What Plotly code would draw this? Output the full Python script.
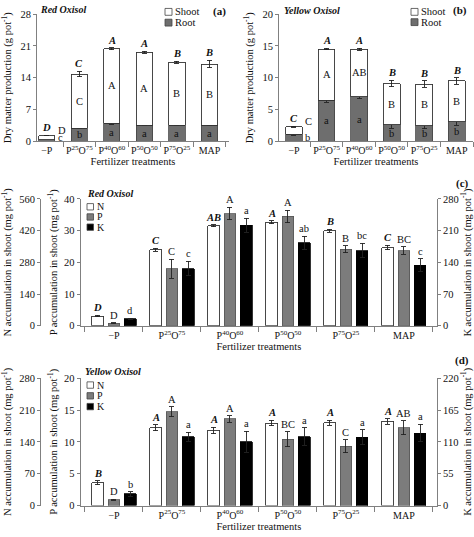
import plotly.graph_objects as go

W, H = 474, 537
FONT = "Liberation Serif, Times New Roman, DejaVu Serif, serif"
AX = "#808080"

# ---------------- data ----------------
treatments = ["−P", "P<sup>25</sup>O<sup>75</sup>", "P<sup>40</sup>O<sup>60</sup>",
              "P<sup>50</sup>O<sup>50</sup>", "P<sup>75</sup>O<sup>25</sup>", "MAP"]

# (a) Red Oxisol – dry matter (g pot-1)
red_root = [0.4, 2.9, 4.0, 3.6, 3.6, 3.6]
red_root_err = [0.05, 0.15, 0.2, 0.15, 0.15, 0.15]
red_shoot = [0.9, 11.9, 16.4, 16.0, 13.8, 13.4]
red_total_err = [0.1, 0.6, 0.25, 0.2, 0.2, 0.8]
red_total_letters = ["D", "C", "A", "A", "B", "B"]
red_shoot_letters = ["D", "C", "A", "A", "B", "B"]
red_root_letters = ["c", "b", "a", "a", "a", "a"]

# (b) Yellow Oxisol – dry matter (g pot-1)
yel_root = [1.1, 6.5, 7.0, 2.6, 2.5, 3.1]
yel_root_err = [0.1, 0.35, 0.3, 0.5, 0.5, 0.55]
yel_shoot = [1.2, 8.0, 7.5, 6.5, 6.5, 6.4]
yel_total_err = [0.1, 0.1, 0.15, 0.5, 0.5, 0.5]
yel_total_letters = ["C", "A", "A", "B", "B", "B"]
yel_shoot_letters = ["C", "A", "AB", "B", "B", "B"]
yel_root_letters = ["b", "a", "a", "b", "b", "b"]

# (c) Red Oxisol – accumulation in shoot (mg pot-1)
red_N = [43, 335, 442, 457, 419, 345]
red_N_err = [4, 7, 5, 6, 7, 10]
red_P = [0.8, 18.0, 35.4, 34.5, 24.2, 23.7]
red_P_err = [0.1, 3.0, 2.0, 2.0, 1.1, 1.2]
red_K = [15, 126, 222, 183, 166, 134]
red_K_err = [1.5, 16, 15, 15, 16, 14]
red_N_letters = ["D", "C", "AB", "A", "B", "C"]
red_P_letters = ["D", "C", "A", "A", "B", "BC"]
red_K_letters = ["d", "c", "a", "ab", "bc", "c"]

# (d) Yellow Oxisol – accumulation in shoot (mg pot-1)
yel_N = [50, 171, 165, 181, 182, 185]
yel_N_err = [4, 7, 7, 6, 5, 6]
yel_P = [0.9, 14.75, 13.6, 10.4, 9.3, 12.2]
yel_P_err = [0.05, 0.8, 0.5, 1.2, 1.0, 1.1]
yel_K = [20, 119, 110, 119, 118, 125]
yel_K_err = [4, 8, 18, 15, 13, 15]
yel_N_letters = ["B", "A", "A", "A", "A", "A"]
yel_P_letters = ["D", "A", "A", "BC", "C", "AB"]
yel_K_letters = ["b", "a", "a", "a", "a", "a"]

dm_legend = ["Shoot", "Root"]
nut_legend = ["N", "P", "K"]


def P(x):
    return x / W


def Q(y):
    return 1 - y / H


fig = go.Figure()
annos = []
shapes = []

ROOT_C = "#6e6e6e"
P_C = "#7c7c7c"
LF = 10.5  # letter font size


def err(arr):
    return dict(type="data", array=arr, color="#222", thickness=0.9, width=2.5)


def stacked(xa, ya, width, root, root_err, shoot, total_err, tl, sl, rl):
    fig.add_bar(x=treatments, y=root, xaxis=xa, yaxis=ya, width=width, showlegend=False,
                marker=dict(color=ROOT_C, line=dict(color="#444", width=0.8)), error_y=err(root_err))
    fig.add_bar(x=treatments, y=shoot, xaxis=xa, yaxis=ya, width=width, showlegend=False,
                marker=dict(color="white", line=dict(color="#333", width=0.9)), error_y=err(total_err))
    for i in range(len(treatments)):
        tot = root[i] + shoot[i]
        annos.append(dict(x=i, y=tot + total_err[i], xref=xa, yref=ya, text=f"<b><i>{tl[i]}</i></b>",
                          showarrow=False, yanchor="bottom", yshift=0, font=dict(size=LF)))
        if i == 0:
            annos.append(dict(x=width / 2, y=tot, xref=xa, yref=ya, text=sl[i], showarrow=False,
                              xanchor="left", xshift=1, yanchor="middle", yshift=5, font=dict(size=LF)))
            annos.append(dict(x=width / 2, y=0, xref=xa, yref=ya, text=rl[i], showarrow=False,
                              xanchor="left", xshift=1, yanchor="bottom", yshift=-4, font=dict(size=LF)))
        else:
            annos.append(dict(x=i, y=root[i] + shoot[i] / 2, xref=xa, yref=ya, text=sl[i], showarrow=False,
                              yanchor="middle", font=dict(size=LF)))
            annos.append(dict(x=i, y=root[i] / 2, xref=xa, yref=ya, text=rl[i], showarrow=False,
                              yanchor="middle", font=dict(size=LF, color="#111")))


stacked("x", "y", 0.5, red_root, red_root_err, red_shoot, red_total_err,
        red_total_letters, red_shoot_letters, red_root_letters)
stacked("x2", "y2", 0.52, yel_root, yel_root_err, yel_shoot, yel_total_err,
        yel_total_letters, yel_shoot_letters, yel_root_letters)

BW = 0.2
OFFS = [-0.28, 0.0, 0.28]


def grouped(xa, yN, yP, yK, N, Ne, Pv, Pe, K, Ke, Nl, Pl, Kl):
    series = [
        (N, Ne, Nl, yN, dict(color="white", line=dict(color="#333", width=0.9)), True),
        (Pv, Pe, Pl, yP, dict(color=P_C, line=dict(color="#555", width=0.8)), False),
        (K, Ke, Kl, yK, dict(color="black", line=dict(color="black", width=0.8)), False),
    ]
    for (vals, es, letters, ya, mk, ital), off in zip(series, OFFS):
        fig.add_bar(x=treatments, y=vals, xaxis=xa, yaxis=ya, width=BW, offset=off - BW / 2,
                    marker=mk, error_y=err(es), showlegend=False)
        for i in range(len(treatments)):
            txt = f"<b><i>{letters[i]}</i></b>" if ital else letters[i]
            annos.append(dict(x=i + off, y=vals[i] + es[i], xref=xa, yref=ya, text=txt, showarrow=False,
                              yanchor="bottom", yshift=0, font=dict(size=LF)))


grouped("x3", "y4", "y3", "y5", red_N, red_N_err, red_P, red_P_err, red_K, red_K_err,
        red_N_letters, red_P_letters, red_K_letters)
grouped("x4", "y7", "y6", "y8", yel_N, yel_N_err, yel_P, yel_P_err, yel_K, yel_K_err,
        yel_N_letters, yel_P_letters, yel_K_letters)


# -------- manual legends, panel titles and labels --------
def swatch(x0, yc, color, size=7, line="#444"):
    shapes.append(dict(type="rect", xref="paper", yref="paper", x0=P(x0), x1=P(x0 + size),
                       y0=Q(yc + size / 2), y1=Q(yc - size / 2), fillcolor=color,
                       line=dict(color=line, width=0.8)))


def label(x, y, text, size=10.5, anchor="left", angle=0):
    annos.append(dict(x=P(x), y=Q(y), xref="paper", yref="paper", text=text, showarrow=False,
                      xanchor=anchor, yanchor="middle", textangle=angle, font=dict(size=size)))


dm_colors = ["white", ROOT_C]
for k, (name, c) in enumerate(zip(dm_legend, dm_colors)):
    swatch(165, 7 + 11 * k, c)
    label(173, 7 + 11 * k, name)
    swatch(411, 7 + 10.5 * k, c)
    label(419, 7 + 10.5 * k, name)

nut_colors = ["white", P_C, "black"]
for k, (name, c) in enumerate(zip(nut_legend, nut_colors)):
    swatch(87, 206 + 10.4 * k, c, size=6.5)
    label(95, 206 + 10.4 * k, name, size=10)
    swatch(87, 388 + 11 * k, c, size=6.5)
    label(95, 388 + 11 * k, name, size=10)

K_title = "K accumulation in shoot (mg pot<sup>-1</sup>)"
label(38, 5, "<b><i>Red Oxisol</i></b>", size=10)
label(282, 6, "<b><i>Yellow Oxisol</i></b>", size=10)
label(85, 192, "<b><i>Red Oxisol</i></b>", size=10)
label(83, 374, "<b><i>Yellow Oxisol</i></b>", size=10)
label(228, 7, "<b>(a)</b>", size=11, anchor="right")
label(469, 6, "<b>(b)</b>", size=11, anchor="right")
label(471, 182, "<b>(c)</b>", size=11, anchor="right")
label(471, 363, "<b>(d)</b>", size=11, anchor="right")
label(466, 263, K_title, size=10.5, anchor="center", angle=-90)
label(466, 446, K_title, size=10.5, anchor="center", angle=-90)

# ---------------- axes ----------------
xcommon = dict(type="category", tickson="boundaries", ticks="outside", ticklen=5, tickcolor=AX,
               showline=True, linecolor=AX, linewidth=1, showgrid=False, zeroline=False,
               tickangle=0, tickfont=dict(size=10),
               title=dict(text="Fertilizer treatments", font=dict(size=10.5), standoff=0),
               fixedrange=True)
ycommon = dict(ticks="outside", ticklen=3, tickcolor=AX, showline=True, linecolor=AX, linewidth=1,
               showgrid=False, zeroline=False, tickfont=dict(size=10.5), fixedrange=True)

dm_title = "Dry matter production (g pot<sup>-1</sup>)"
N_title = "N accumulation in shoot (mg pot<sup>-1</sup>)"
P_title = "P accumulation in shoot (mg pot<sup>-1</sup>)"
TF = dict(size=10.5)

top_dom = [Q(139.3), Q(9.3)]
c_dom = [Q(327.5), Q(198)]
d_dom = [Q(511), Q(381)]
cd_x = [P(80.7), P(437)]

fig.update_layout(
    width=W, height=H, autosize=False,
    margin=dict(l=0, r=0, t=0, b=0),
    paper_bgcolor="white", plot_bgcolor="white",
    font=dict(family=FONT, size=10.5, color="#111"),
    barmode="stack", showlegend=False,
    annotations=annos, shapes=shapes,
    xaxis=dict(xcommon, domain=[P(37), P(229)], range=[-0.3, 5.6], anchor="y"),
    yaxis=dict(ycommon, domain=top_dom, range=[0, 28], dtick=7, anchor="x",
               title=dict(text=dm_title, font=TF, standoff=6)),
    xaxis2=dict(xcommon, domain=[P(279), P(473)], range=[-0.46, 5.5], anchor="y2"),
    yaxis2=dict(ycommon, domain=top_dom, range=[0, 20], dtick=5, anchor="x2",
                title=dict(text=dm_title, font=TF, standoff=6)),
    xaxis3=dict(xcommon, domain=cd_x, range=[-0.574, 5.57], anchor="y3"),
    yaxis3=dict(ycommon, domain=c_dom, range=[0, 40], dtick=10, anchor="x3",
                title=dict(text=P_title, font=TF, standoff=4)),
    yaxis4=dict(ycommon, overlaying="y3", anchor="free", position=P(40), side="left",
                range=[0, 560], dtick=140, title=dict(text=N_title, font=TF, standoff=4)),
    yaxis5=dict(ycommon, overlaying="y3", anchor="x3", side="right",
                range=[0, 280], dtick=70),
    xaxis4=dict(xcommon, domain=cd_x, range=[-0.574, 5.57], anchor="y6"),
    yaxis6=dict(ycommon, domain=d_dom, range=[0, 20], dtick=5, anchor="x4",
                title=dict(text=P_title, font=TF, standoff=4)),
    yaxis7=dict(ycommon, overlaying="y6", anchor="free", position=P(40), side="left",
                range=[0, 280], dtick=70, title=dict(text=N_title, font=TF, standoff=4)),
    yaxis8=dict(ycommon, overlaying="y6", anchor="x4", side="right",
                range=[0, 220], dtick=55),
)

fig.write_html("out.html", config={"displayModeBar": False},
               post_script="document.body.style.margin='0';document.body.style.padding='0';"
                           "document.documentElement.style.overflow='hidden';")
